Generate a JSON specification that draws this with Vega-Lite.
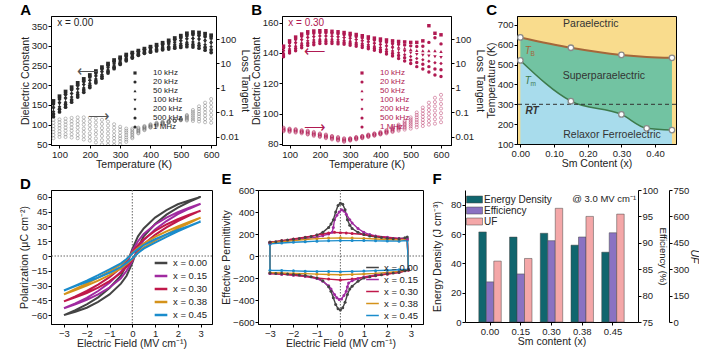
{
"$schema": "https://vega.github.io/schema/vega-lite/v6.json",
"padding": {"left": 19, "top": 2, "right": 0, "bottom": 0},
"config": {
  "font": "Liberation Sans",
  "view": {"stroke": "#000", "strokeWidth": 1},
  "axis": {"grid": false, "domainColor": "#000", "tickColor": "#000", "labelColor": "#222", "titleColor": "#222", "labelFontSize": 9.5, "titleFontSize": 10.5, "titleFontWeight": "normal", "tickSize": 3, "labelPadding": 1, "titlePadding": 1, "labelOverlap": false},
  "title": {"fontSize": 15, "fontWeight": "bold", "anchor": "start", "frame": "bounds", "offset": 0, "color": "#000"},
  "legend": {"labelColor": "#222", "titleColor": "#222"}
},
"datasets": {
"A": [
{"f":1,"T":80,"d":160,"l":0.0089},{"f":2,"T":80,"d":153,"l":0.012},{"f":3,"T":80,"d":147,"l":0.016},{"f":4,"T":80,"d":140,"l":0.021},{"f":5,"T":80,"d":133,"l":0.028},{"f":6,"T":80,"d":127,"l":0.038},{"f":7,"T":80,"d":120,"l":0.05},
{"f":1,"T":100,"d":172,"l":0.01},{"f":2,"T":100,"d":165,"l":0.013},{"f":3,"T":100,"d":159,"l":0.017},{"f":4,"T":100,"d":152,"l":0.023},{"f":5,"T":100,"d":145,"l":0.03},{"f":6,"T":100,"d":139,"l":0.04},{"f":7,"T":100,"d":132,"l":0.052},
{"f":1,"T":120,"d":184,"l":0.01},{"f":2,"T":120,"d":177,"l":0.013},{"f":3,"T":120,"d":171,"l":0.018},{"f":4,"T":120,"d":164,"l":0.024},{"f":5,"T":120,"d":157,"l":0.032},{"f":6,"T":120,"d":151,"l":0.042},{"f":7,"T":120,"d":144,"l":0.056},
{"f":1,"T":140,"d":195,"l":0.0095},{"f":2,"T":140,"d":189,"l":0.013},{"f":3,"T":140,"d":182,"l":0.018},{"f":4,"T":140,"d":176,"l":0.024},{"f":5,"T":140,"d":170,"l":0.033},{"f":6,"T":140,"d":163,"l":0.044},{"f":7,"T":140,"d":157,"l":0.06},
{"f":1,"T":160,"d":206,"l":0.0089},{"f":2,"T":160,"d":200,"l":0.012},{"f":3,"T":160,"d":194,"l":0.017},{"f":4,"T":160,"d":188,"l":0.024},{"f":5,"T":160,"d":182,"l":0.033},{"f":6,"T":160,"d":176,"l":0.045},{"f":7,"T":160,"d":170,"l":0.063},
{"f":1,"T":180,"d":216,"l":0.0079},{"f":2,"T":180,"d":210,"l":0.011},{"f":3,"T":180,"d":205,"l":0.016},{"f":4,"T":180,"d":199,"l":0.022},{"f":5,"T":180,"d":193,"l":0.032},{"f":6,"T":180,"d":188,"l":0.045},{"f":7,"T":180,"d":182,"l":0.063},
{"f":1,"T":200,"d":226,"l":0.0071},{"f":2,"T":200,"d":221,"l":0.01},{"f":3,"T":200,"d":215,"l":0.014},{"f":4,"T":200,"d":210,"l":0.021},{"f":5,"T":200,"d":205,"l":0.03},{"f":6,"T":200,"d":199,"l":0.042},{"f":7,"T":200,"d":194,"l":0.06},
{"f":1,"T":220,"d":236,"l":0.006},{"f":2,"T":220,"d":231,"l":0.0087},{"f":3,"T":220,"d":226,"l":0.013},{"f":4,"T":220,"d":221,"l":0.018},{"f":5,"T":220,"d":216,"l":0.027},{"f":6,"T":220,"d":211,"l":0.039},{"f":7,"T":220,"d":206,"l":0.056},
{"f":1,"T":240,"d":246,"l":0.005},{"f":2,"T":240,"d":241,"l":0.0074},{"f":3,"T":240,"d":237,"l":0.011},{"f":4,"T":240,"d":232,"l":0.016},{"f":5,"T":240,"d":227,"l":0.023},{"f":6,"T":240,"d":223,"l":0.034},{"f":7,"T":240,"d":218,"l":0.05},
{"f":1,"T":260,"d":255,"l":0.0047},{"f":2,"T":260,"d":251,"l":0.0067},{"f":3,"T":260,"d":247,"l":0.0097},{"f":4,"T":260,"d":243,"l":0.014},{"f":5,"T":260,"d":239,"l":0.02},{"f":6,"T":260,"d":235,"l":0.029},{"f":7,"T":260,"d":231,"l":0.042},
{"f":1,"T":280,"d":264,"l":0.0047},{"f":2,"T":280,"d":260,"l":0.0065},{"f":3,"T":280,"d":257,"l":0.009},{"f":4,"T":280,"d":253,"l":0.012},{"f":5,"T":280,"d":249,"l":0.017},{"f":6,"T":280,"d":246,"l":0.024},{"f":7,"T":280,"d":242,"l":0.033},
{"f":1,"T":300,"d":271,"l":0.005},{"f":2,"T":300,"d":268,"l":0.0066},{"f":3,"T":300,"d":265,"l":0.0087},{"f":4,"T":300,"d":262,"l":0.011},{"f":5,"T":300,"d":259,"l":0.015},{"f":6,"T":300,"d":256,"l":0.02},{"f":7,"T":300,"d":253,"l":0.026},
{"f":1,"T":320,"d":278,"l":0.0063},{"f":2,"T":320,"d":275,"l":0.0078},{"f":3,"T":320,"d":273,"l":0.0096},{"f":4,"T":320,"d":270,"l":0.012},{"f":5,"T":320,"d":267,"l":0.015},{"f":6,"T":320,"d":265,"l":0.018},{"f":7,"T":320,"d":262,"l":0.022},
{"f":1,"T":340,"d":283,"l":0.0089},{"f":2,"T":340,"d":281,"l":0.01},{"f":3,"T":340,"d":278,"l":0.012},{"f":4,"T":340,"d":276,"l":0.014},{"f":5,"T":340,"d":274,"l":0.016},{"f":6,"T":340,"d":271,"l":0.019},{"f":7,"T":340,"d":269,"l":0.022},
{"f":1,"T":360,"d":288,"l":0.014},{"f":2,"T":360,"d":286,"l":0.015},{"f":3,"T":360,"d":284,"l":0.017},{"f":4,"T":360,"d":282,"l":0.018},{"f":5,"T":360,"d":280,"l":0.02},{"f":6,"T":360,"d":278,"l":0.022},{"f":7,"T":360,"d":276,"l":0.024},
{"f":1,"T":380,"d":293,"l":0.019},{"f":2,"T":380,"d":291,"l":0.02},{"f":3,"T":380,"d":289,"l":0.022},{"f":4,"T":380,"d":287,"l":0.023},{"f":5,"T":380,"d":285,"l":0.025},{"f":6,"T":380,"d":283,"l":0.026},{"f":7,"T":380,"d":281,"l":0.028},
{"f":1,"T":400,"d":298,"l":0.024},{"f":2,"T":400,"d":296,"l":0.025},{"f":3,"T":400,"d":293,"l":0.026},{"f":4,"T":400,"d":291,"l":0.028},{"f":5,"T":400,"d":289,"l":0.029},{"f":6,"T":400,"d":286,"l":0.031},{"f":7,"T":400,"d":284,"l":0.033},
{"f":1,"T":420,"d":303,"l":0.028},{"f":2,"T":420,"d":300,"l":0.03},{"f":3,"T":420,"d":298,"l":0.031},{"f":4,"T":420,"d":295,"l":0.033},{"f":5,"T":420,"d":292,"l":0.034},{"f":6,"T":420,"d":290,"l":0.036},{"f":7,"T":420,"d":287,"l":0.038},
{"f":1,"T":440,"d":308,"l":0.033},{"f":2,"T":440,"d":305,"l":0.034},{"f":3,"T":440,"d":302,"l":0.036},{"f":4,"T":440,"d":299,"l":0.037},{"f":5,"T":440,"d":296,"l":0.038},{"f":6,"T":440,"d":293,"l":0.04},{"f":7,"T":440,"d":290,"l":0.042},
{"f":1,"T":460,"d":314,"l":0.038},{"f":2,"T":460,"d":310,"l":0.039},{"f":3,"T":460,"d":307,"l":0.04},{"f":4,"T":460,"d":303,"l":0.041},{"f":5,"T":460,"d":299,"l":0.042},{"f":6,"T":460,"d":296,"l":0.044},{"f":7,"T":460,"d":292,"l":0.045},
{"f":1,"T":480,"d":320,"l":0.045},{"f":2,"T":480,"d":316,"l":0.045},{"f":3,"T":480,"d":311,"l":0.046},{"f":4,"T":480,"d":307,"l":0.046},{"f":5,"T":480,"d":303,"l":0.046},{"f":6,"T":480,"d":298,"l":0.047},{"f":7,"T":480,"d":294,"l":0.047},
{"f":1,"T":500,"d":326,"l":0.056},{"f":2,"T":500,"d":321,"l":0.055},{"f":3,"T":500,"d":316,"l":0.053},{"f":4,"T":500,"d":311,"l":0.052},{"f":5,"T":500,"d":306,"l":0.051},{"f":6,"T":500,"d":301,"l":0.049},{"f":7,"T":500,"d":296,"l":0.048},
{"f":1,"T":520,"d":332,"l":0.079},{"f":2,"T":520,"d":326,"l":0.073},{"f":3,"T":520,"d":321,"l":0.067},{"f":4,"T":520,"d":315,"l":0.061},{"f":5,"T":520,"d":309,"l":0.056},{"f":6,"T":520,"d":304,"l":0.051},{"f":7,"T":520,"d":298,"l":0.047},
{"f":1,"T":540,"d":335,"l":0.126},{"f":2,"T":540,"d":329,"l":0.106},{"f":3,"T":540,"d":322,"l":0.089},{"f":4,"T":540,"d":316,"l":0.075},{"f":5,"T":540,"d":310,"l":0.063},{"f":6,"T":540,"d":303,"l":0.053},{"f":7,"T":540,"d":297,"l":0.045},
{"f":1,"T":560,"d":334,"l":0.178},{"f":2,"T":560,"d":327,"l":0.14},{"f":3,"T":560,"d":321,"l":0.11},{"f":4,"T":560,"d":314,"l":0.087},{"f":5,"T":560,"d":307,"l":0.069},{"f":6,"T":560,"d":301,"l":0.054},{"f":7,"T":560,"d":294,"l":0.043},
{"f":1,"T":580,"d":331,"l":0.251},{"f":2,"T":580,"d":324,"l":0.185},{"f":3,"T":580,"d":317,"l":0.136},{"f":4,"T":580,"d":310,"l":0.1},{"f":5,"T":580,"d":303,"l":0.074},{"f":6,"T":580,"d":296,"l":0.054},{"f":7,"T":580,"d":289,"l":0.04},
{"f":1,"T":600,"d":327,"l":0.355},{"f":2,"T":600,"d":320,"l":0.244},{"f":3,"T":600,"d":312,"l":0.169},{"f":4,"T":600,"d":305,"l":0.116},{"f":5,"T":600,"d":298,"l":0.08},{"f":6,"T":600,"d":290,"l":0.055},{"f":7,"T":600,"d":283,"l":0.038}
],
"B": [
{"f":1,"T":80,"d":144.5,"l":0.024},{"f":2,"T":80,"d":143.3,"l":0.023},{"f":3,"T":80,"d":142.2,"l":0.021},{"f":4,"T":80,"d":141,"l":0.02},{"f":5,"T":80,"d":139.8,"l":0.019},{"f":6,"T":80,"d":138.7,"l":0.018},{"f":7,"T":80,"d":137.5,"l":0.017},
{"f":1,"T":100,"d":148,"l":0.022},{"f":2,"T":100,"d":146.7,"l":0.021},{"f":3,"T":100,"d":145.3,"l":0.02},{"f":4,"T":100,"d":144,"l":0.019},{"f":5,"T":100,"d":142.7,"l":0.018},{"f":6,"T":100,"d":141.3,"l":0.017},{"f":7,"T":100,"d":140,"l":0.016},
{"f":1,"T":120,"d":150.5,"l":0.021},{"f":2,"T":120,"d":149,"l":0.02},{"f":3,"T":120,"d":147.5,"l":0.019},{"f":4,"T":120,"d":146,"l":0.018},{"f":5,"T":120,"d":144.5,"l":0.017},{"f":6,"T":120,"d":143,"l":0.016},{"f":7,"T":120,"d":141.5,"l":0.015},
{"f":1,"T":140,"d":152.5,"l":0.019},{"f":2,"T":140,"d":151,"l":0.018},{"f":3,"T":140,"d":149.5,"l":0.017},{"f":4,"T":140,"d":148,"l":0.016},{"f":5,"T":140,"d":146.5,"l":0.016},{"f":6,"T":140,"d":145,"l":0.015},{"f":7,"T":140,"d":143.5,"l":0.014},
{"f":1,"T":160,"d":154,"l":0.018},{"f":2,"T":160,"d":152.5,"l":0.017},{"f":3,"T":160,"d":151,"l":0.016},{"f":4,"T":160,"d":149.5,"l":0.015},{"f":5,"T":160,"d":148,"l":0.014},{"f":6,"T":160,"d":146.5,"l":0.013},{"f":7,"T":160,"d":145,"l":0.0126},
{"f":1,"T":180,"d":154.5,"l":0.016},{"f":2,"T":180,"d":153,"l":0.015},{"f":3,"T":180,"d":151.5,"l":0.014},{"f":4,"T":180,"d":150,"l":0.013},{"f":5,"T":180,"d":148.5,"l":0.0126},{"f":6,"T":180,"d":147,"l":0.012},{"f":7,"T":180,"d":145.5,"l":0.011},
{"f":1,"T":200,"d":154.7,"l":0.014},{"f":2,"T":200,"d":153.3,"l":0.013},{"f":3,"T":200,"d":151.9,"l":0.0126},{"f":4,"T":200,"d":150.5,"l":0.012},{"f":5,"T":200,"d":149.1,"l":0.011},{"f":6,"T":200,"d":147.7,"l":0.0106},{"f":7,"T":200,"d":146.3,"l":0.01},
{"f":1,"T":220,"d":154.7,"l":0.0126},{"f":2,"T":220,"d":153.3,"l":0.012},{"f":3,"T":220,"d":151.9,"l":0.011},{"f":4,"T":220,"d":150.5,"l":0.0106},{"f":5,"T":220,"d":149.1,"l":0.01},{"f":6,"T":220,"d":147.7,"l":0.0094},{"f":7,"T":220,"d":146.3,"l":0.0089},
{"f":1,"T":240,"d":154.3,"l":0.011},{"f":2,"T":240,"d":153,"l":0.0106},{"f":3,"T":240,"d":151.6,"l":0.01},{"f":4,"T":240,"d":150.3,"l":0.0094},{"f":5,"T":240,"d":149,"l":0.0089},{"f":6,"T":240,"d":147.6,"l":0.0084},{"f":7,"T":240,"d":146.3,"l":0.0079},
{"f":1,"T":260,"d":154,"l":0.01},{"f":2,"T":260,"d":152.7,"l":0.0094},{"f":3,"T":260,"d":151.3,"l":0.0089},{"f":4,"T":260,"d":150,"l":0.0084},{"f":5,"T":260,"d":148.7,"l":0.0079},{"f":6,"T":260,"d":147.3,"l":0.0075},{"f":7,"T":260,"d":146,"l":0.0071},
{"f":1,"T":280,"d":153.5,"l":0.0089},{"f":2,"T":280,"d":152.2,"l":0.0084},{"f":3,"T":280,"d":150.9,"l":0.0079},{"f":4,"T":280,"d":149.6,"l":0.0075},{"f":5,"T":280,"d":148.3,"l":0.0071},{"f":6,"T":280,"d":147,"l":0.0067},{"f":7,"T":280,"d":145.7,"l":0.0063},
{"f":1,"T":300,"d":152.9,"l":0.0089},{"f":2,"T":300,"d":151.6,"l":0.0086},{"f":3,"T":300,"d":150.3,"l":0.0083},{"f":4,"T":300,"d":149,"l":0.0079},{"f":5,"T":300,"d":147.7,"l":0.0077},{"f":6,"T":300,"d":146.4,"l":0.0074},{"f":7,"T":300,"d":145.1,"l":0.0071},
{"f":1,"T":320,"d":152.2,"l":0.01},{"f":2,"T":320,"d":150.9,"l":0.0096},{"f":3,"T":320,"d":149.6,"l":0.0093},{"f":4,"T":320,"d":148.3,"l":0.0089},{"f":5,"T":320,"d":147,"l":0.0086},{"f":6,"T":320,"d":145.7,"l":0.0082},{"f":7,"T":320,"d":144.4,"l":0.0079},
{"f":1,"T":340,"d":151.4,"l":0.011},{"f":2,"T":340,"d":150.1,"l":0.0108},{"f":3,"T":340,"d":148.8,"l":0.0104},{"f":4,"T":340,"d":147.5,"l":0.01},{"f":5,"T":340,"d":146.2,"l":0.0096},{"f":6,"T":340,"d":144.9,"l":0.0092},{"f":7,"T":340,"d":143.6,"l":0.0089},
{"f":1,"T":360,"d":150.6,"l":0.0126},{"f":2,"T":360,"d":149.3,"l":0.012},{"f":3,"T":360,"d":148,"l":0.0117},{"f":4,"T":360,"d":146.7,"l":0.0112},{"f":5,"T":360,"d":145.4,"l":0.0108},{"f":6,"T":360,"d":144.1,"l":0.0104},{"f":7,"T":360,"d":142.8,"l":0.01},
{"f":1,"T":380,"d":149.8,"l":0.014},{"f":2,"T":380,"d":148.5,"l":0.0136},{"f":3,"T":380,"d":147.1,"l":0.013},{"f":4,"T":380,"d":145.8,"l":0.0126},{"f":5,"T":380,"d":144.5,"l":0.012},{"f":6,"T":380,"d":143.1,"l":0.0116},{"f":7,"T":380,"d":141.8,"l":0.0112},
{"f":1,"T":400,"d":149.2,"l":0.016},{"f":2,"T":400,"d":147.8,"l":0.015},{"f":3,"T":400,"d":146.4,"l":0.0146},{"f":4,"T":400,"d":145,"l":0.014},{"f":5,"T":400,"d":143.6,"l":0.0135},{"f":6,"T":400,"d":142.2,"l":0.013},{"f":7,"T":400,"d":140.8,"l":0.0126},
{"f":1,"T":420,"d":148.6,"l":0.019},{"f":2,"T":420,"d":147.1,"l":0.018},{"f":3,"T":420,"d":145.5,"l":0.017},{"f":4,"T":420,"d":144,"l":0.016},{"f":5,"T":420,"d":142.5,"l":0.0155},{"f":6,"T":420,"d":140.9,"l":0.015},{"f":7,"T":420,"d":139.4,"l":0.014},
{"f":1,"T":440,"d":148,"l":0.024},{"f":2,"T":440,"d":146.3,"l":0.022},{"f":3,"T":440,"d":144.7,"l":0.021},{"f":4,"T":440,"d":143,"l":0.0195},{"f":5,"T":440,"d":141.3,"l":0.018},{"f":6,"T":440,"d":139.7,"l":0.017},{"f":7,"T":440,"d":138,"l":0.016},
{"f":1,"T":460,"d":147.6,"l":0.032},{"f":2,"T":460,"d":145.7,"l":0.029},{"f":3,"T":460,"d":143.9,"l":0.026},{"f":4,"T":460,"d":142,"l":0.024},{"f":5,"T":460,"d":140.1,"l":0.022},{"f":6,"T":460,"d":138.3,"l":0.02},{"f":7,"T":460,"d":136.4,"l":0.018},
{"f":1,"T":480,"d":147.3,"l":0.045},{"f":2,"T":480,"d":145.2,"l":0.039},{"f":3,"T":480,"d":143.1,"l":0.034},{"f":4,"T":480,"d":141,"l":0.03},{"f":5,"T":480,"d":138.9,"l":0.026},{"f":6,"T":480,"d":136.8,"l":0.023},{"f":7,"T":480,"d":134.7,"l":0.02},
{"f":1,"T":500,"d":147,"l":0.063},{"f":2,"T":500,"d":144.7,"l":0.053},{"f":3,"T":500,"d":142.3,"l":0.045},{"f":4,"T":500,"d":140,"l":0.038},{"f":5,"T":500,"d":137.7,"l":0.032},{"f":6,"T":500,"d":135.3,"l":0.027},{"f":7,"T":500,"d":133,"l":0.022},
{"f":1,"T":520,"d":147,"l":0.1},{"f":2,"T":520,"d":144.3,"l":0.079},{"f":3,"T":520,"d":141.7,"l":0.063},{"f":4,"T":520,"d":139,"l":0.05},{"f":5,"T":520,"d":136.3,"l":0.04},{"f":6,"T":520,"d":133.7,"l":0.032},{"f":7,"T":520,"d":131,"l":0.025},
{"f":1,"T":540,"d":148,"l":0.158},{"f":2,"T":540,"d":144.5,"l":0.119},{"f":3,"T":540,"d":141.5,"l":0.089},{"f":4,"T":540,"d":138.5,"l":0.067},{"f":5,"T":540,"d":135.5,"l":0.05},{"f":6,"T":540,"d":132.5,"l":0.038},{"f":7,"T":540,"d":129.5,"l":0.028},
{"f":1,"T":560,"d":158,"l":0.251},{"f":2,"T":560,"d":147,"l":0.178},{"f":3,"T":560,"d":141.5,"l":0.126},{"f":4,"T":560,"d":138,"l":0.089},{"f":5,"T":560,"d":134.5,"l":0.063},{"f":6,"T":560,"d":131,"l":0.045},{"f":7,"T":560,"d":127.5,"l":0.032},
{"f":1,"T":580,"d":153,"l":0.398},{"f":2,"T":580,"d":150,"l":0.266},{"f":3,"T":580,"d":141.5,"l":0.178},{"f":4,"T":580,"d":137.5,"l":0.119},{"f":5,"T":580,"d":133.5,"l":0.079},{"f":6,"T":580,"d":129.5,"l":0.053},{"f":7,"T":580,"d":125.5,"l":0.035},
{"f":1,"T":600,"d":152,"l":0.525},{"f":2,"T":600,"d":146,"l":0.341},{"f":3,"T":600,"d":141,"l":0.222},{"f":4,"T":600,"d":137,"l":0.145},{"f":5,"T":600,"d":133,"l":0.094},{"f":6,"T":600,"d":129,"l":0.061},{"f":7,"T":600,"d":124.5,"l":0.04}
],
"C": [
{"x":0,"tm":521,"tb":637,"mb":1},{"x":0.15,"tm":316,"tb":585,"mb":1},{"x":0.3,"tm":249,"tb":549,"mb":1},{"x":0.375,"tm":179,"tb":539,"mb":0},{"x":0.45,"tm":170,"tb":534,"mb":1}
],
"D": [
{"c":"0.00","o":1,"E":3,"P":60},{"c":"0.00","o":2,"E":2.5,"P":56.5},{"c":"0.00","o":3,"E":2,"P":52.5},{"c":"0.00","o":4,"E":1.5,"P":46.5},{"c":"0.00","o":5,"E":1,"P":39},{"c":"0.00","o":6,"E":0.5,"P":28},{"c":"0.00","o":7,"E":0.25,"P":20},{"c":"0.00","o":8,"E":0,"P":7},{"c":"0.00","o":9,"E":-0.25,"P":-9},{"c":"0.00","o":10,"E":-0.5,"P":-20},{"c":"0.00","o":11,"E":-1,"P":-32.5},{"c":"0.00","o":12,"E":-1.5,"P":-42},{"c":"0.00","o":13,"E":-2,"P":-49},{"c":"0.00","o":14,"E":-2.5,"P":-55},{"c":"0.00","o":15,"E":-3,"P":-60},
{"c":"0.00","o":16,"E":-2.5,"P":-56.5},{"c":"0.00","o":17,"E":-2,"P":-52.5},{"c":"0.00","o":18,"E":-1.5,"P":-46.5},{"c":"0.00","o":19,"E":-1,"P":-39},{"c":"0.00","o":20,"E":-0.5,"P":-28},{"c":"0.00","o":21,"E":-0.25,"P":-20},{"c":"0.00","o":22,"E":0,"P":-7},{"c":"0.00","o":23,"E":0.25,"P":9},{"c":"0.00","o":24,"E":0.5,"P":20},{"c":"0.00","o":25,"E":1,"P":32.5},{"c":"0.00","o":26,"E":1.5,"P":42},{"c":"0.00","o":27,"E":2,"P":49},{"c":"0.00","o":28,"E":2.5,"P":55},{"c":"0.00","o":29,"E":3,"P":60},
{"c":"0.15","o":1,"E":3,"P":53},{"c":"0.15","o":2,"E":2.5,"P":49},{"c":"0.15","o":3,"E":2,"P":44.5},{"c":"0.15","o":4,"E":1.5,"P":39},{"c":"0.15","o":5,"E":1,"P":32},{"c":"0.15","o":6,"E":0.5,"P":22.5},{"c":"0.15","o":7,"E":0.25,"P":15},{"c":"0.15","o":8,"E":0,"P":5},{"c":"0.15","o":9,"E":-0.25,"P":-7},{"c":"0.15","o":10,"E":-0.5,"P":-16},{"c":"0.15","o":11,"E":-1,"P":-27},{"c":"0.15","o":12,"E":-1.5,"P":-35.5},{"c":"0.15","o":13,"E":-2,"P":-42.5},{"c":"0.15","o":14,"E":-2.5,"P":-48},{"c":"0.15","o":15,"E":-3,"P":-53},
{"c":"0.15","o":16,"E":-2.5,"P":-49},{"c":"0.15","o":17,"E":-2,"P":-44.5},{"c":"0.15","o":18,"E":-1.5,"P":-39},{"c":"0.15","o":19,"E":-1,"P":-32},{"c":"0.15","o":20,"E":-0.5,"P":-22.5},{"c":"0.15","o":21,"E":-0.25,"P":-15},{"c":"0.15","o":22,"E":0,"P":-5},{"c":"0.15","o":23,"E":0.25,"P":7},{"c":"0.15","o":24,"E":0.5,"P":16},{"c":"0.15","o":25,"E":1,"P":27},{"c":"0.15","o":26,"E":1.5,"P":35.5},{"c":"0.15","o":27,"E":2,"P":42.5},{"c":"0.15","o":28,"E":2.5,"P":48},{"c":"0.15","o":29,"E":3,"P":53},
{"c":"0.30","o":1,"E":3,"P":46},{"c":"0.30","o":2,"E":2.5,"P":42},{"c":"0.30","o":3,"E":2,"P":37.5},{"c":"0.30","o":4,"E":1.5,"P":32},{"c":"0.30","o":5,"E":1,"P":25.5},{"c":"0.30","o":6,"E":0.5,"P":17},{"c":"0.30","o":7,"E":0.25,"P":11},{"c":"0.30","o":8,"E":0,"P":4},{"c":"0.30","o":9,"E":-0.25,"P":-5},{"c":"0.30","o":10,"E":-0.5,"P":-12},{"c":"0.30","o":11,"E":-1,"P":-21.5},{"c":"0.30","o":12,"E":-1.5,"P":-29},{"c":"0.30","o":13,"E":-2,"P":-35.5},{"c":"0.30","o":14,"E":-2.5,"P":-41},{"c":"0.30","o":15,"E":-3,"P":-46},
{"c":"0.30","o":16,"E":-2.5,"P":-42},{"c":"0.30","o":17,"E":-2,"P":-37.5},{"c":"0.30","o":18,"E":-1.5,"P":-32},{"c":"0.30","o":19,"E":-1,"P":-25.5},{"c":"0.30","o":20,"E":-0.5,"P":-17},{"c":"0.30","o":21,"E":-0.25,"P":-11},{"c":"0.30","o":22,"E":0,"P":-4},{"c":"0.30","o":23,"E":0.25,"P":5},{"c":"0.30","o":24,"E":0.5,"P":12},{"c":"0.30","o":25,"E":1,"P":21.5},{"c":"0.30","o":26,"E":1.5,"P":29},{"c":"0.30","o":27,"E":2,"P":35.5},{"c":"0.30","o":28,"E":2.5,"P":41},{"c":"0.30","o":29,"E":3,"P":46},
{"c":"0.38","o":1,"E":3,"P":39},{"c":"0.38","o":2,"E":2.5,"P":34.5},{"c":"0.38","o":3,"E":2,"P":30},{"c":"0.38","o":4,"E":1.5,"P":25},{"c":"0.38","o":5,"E":1,"P":19.5},{"c":"0.38","o":6,"E":0.5,"P":12.5},{"c":"0.38","o":7,"E":0.25,"P":8},{"c":"0.38","o":8,"E":0,"P":3},{"c":"0.38","o":9,"E":-0.25,"P":-3.5},{"c":"0.38","o":10,"E":-0.5,"P":-8.5},{"c":"0.38","o":11,"E":-1,"P":-15.5},{"c":"0.38","o":12,"E":-1.5,"P":-22},{"c":"0.38","o":13,"E":-2,"P":-28},{"c":"0.38","o":14,"E":-2.5,"P":-33.5},{"c":"0.38","o":15,"E":-3,"P":-39},
{"c":"0.38","o":16,"E":-2.5,"P":-34.5},{"c":"0.38","o":17,"E":-2,"P":-30},{"c":"0.38","o":18,"E":-1.5,"P":-25},{"c":"0.38","o":19,"E":-1,"P":-19.5},{"c":"0.38","o":20,"E":-0.5,"P":-12.5},{"c":"0.38","o":21,"E":-0.25,"P":-8},{"c":"0.38","o":22,"E":0,"P":-3},{"c":"0.38","o":23,"E":0.25,"P":3.5},{"c":"0.38","o":24,"E":0.5,"P":8.5},{"c":"0.38","o":25,"E":1,"P":15.5},{"c":"0.38","o":26,"E":1.5,"P":22},{"c":"0.38","o":27,"E":2,"P":28},{"c":"0.38","o":28,"E":2.5,"P":33.5},{"c":"0.38","o":29,"E":3,"P":39},
{"c":"0.45","o":1,"E":3,"P":35},{"c":"0.45","o":2,"E":2.5,"P":30.5},{"c":"0.45","o":3,"E":2,"P":26.5},{"c":"0.45","o":4,"E":1.5,"P":22},{"c":"0.45","o":5,"E":1,"P":17},{"c":"0.45","o":6,"E":0.5,"P":11},{"c":"0.45","o":7,"E":0.25,"P":7},{"c":"0.45","o":8,"E":0,"P":2.5},{"c":"0.45","o":9,"E":-0.25,"P":-3},{"c":"0.45","o":10,"E":-0.5,"P":-7.5},{"c":"0.45","o":11,"E":-1,"P":-13.5},{"c":"0.45","o":12,"E":-1.5,"P":-19.5},{"c":"0.45","o":13,"E":-2,"P":-25},{"c":"0.45","o":14,"E":-2.5,"P":-30},{"c":"0.45","o":15,"E":-3,"P":-35},
{"c":"0.45","o":16,"E":-2.5,"P":-30.5},{"c":"0.45","o":17,"E":-2,"P":-26.5},{"c":"0.45","o":18,"E":-1.5,"P":-22},{"c":"0.45","o":19,"E":-1,"P":-17},{"c":"0.45","o":20,"E":-0.5,"P":-11},{"c":"0.45","o":21,"E":-0.25,"P":-7},{"c":"0.45","o":22,"E":0,"P":-2.5},{"c":"0.45","o":23,"E":0.25,"P":3},{"c":"0.45","o":24,"E":0.5,"P":7.5},{"c":"0.45","o":25,"E":1,"P":13.5},{"c":"0.45","o":26,"E":1.5,"P":19.5},{"c":"0.45","o":27,"E":2,"P":25},{"c":"0.45","o":28,"E":2.5,"P":30},{"c":"0.45","o":29,"E":3,"P":35}
],
"E": [
{"c":"0.00","o":1,"E":-3,"e":125},{"c":"0.00","o":2,"E":-2.75,"e":130},{"c":"0.00","o":3,"E":-2.5,"e":138},{"c":"0.00","o":4,"E":-2.25,"e":145},{"c":"0.00","o":5,"E":-2,"e":152},{"c":"0.00","o":6,"E":-1.75,"e":160},{"c":"0.00","o":7,"E":-1.5,"e":168},{"c":"0.00","o":8,"E":-1.25,"e":178},{"c":"0.00","o":9,"E":-1,"e":190},{"c":"0.00","o":10,"E":-0.75,"e":215},{"c":"0.00","o":11,"E":-0.5,"e":260},{"c":"0.00","o":12,"E":-0.4,"e":290},{"c":"0.00","o":13,"E":-0.3,"e":330},{"c":"0.00","o":14,"E":-0.2,"e":400},{"c":"0.00","o":15,"E":-0.1,"e":460},{"c":"0.00","o":16,"E":0,"e":480},{"c":"0.00","o":17,"E":0.1,"e":470},{"c":"0.00","o":18,"E":0.2,"e":420},{"c":"0.00","o":19,"E":0.3,"e":330},{"c":"0.00","o":20,"E":0.4,"e":280},{"c":"0.00","o":21,"E":0.5,"e":250},{"c":"0.00","o":22,"E":0.75,"e":215},{"c":"0.00","o":23,"E":1,"e":195},{"c":"0.00","o":24,"E":1.25,"e":182},{"c":"0.00","o":25,"E":1.5,"e":175},{"c":"0.00","o":26,"E":1.75,"e":168},{"c":"0.00","o":27,"E":2,"e":162},{"c":"0.00","o":28,"E":2.25,"e":158},{"c":"0.00","o":29,"E":2.5,"e":158},{"c":"0.00","o":30,"E":2.75,"e":165},{"c":"0.00","o":31,"E":2.85,"e":172},
{"c":"0.00","o":32,"E":2.9,"e":-125},{"c":"0.00","o":33,"E":2.75,"e":-135},{"c":"0.00","o":34,"E":2.5,"e":-148},{"c":"0.00","o":35,"E":2.25,"e":-155},{"c":"0.00","o":36,"E":2,"e":-162},{"c":"0.00","o":37,"E":1.75,"e":-170},{"c":"0.00","o":38,"E":1.5,"e":-178},{"c":"0.00","o":39,"E":1.25,"e":-188},{"c":"0.00","o":40,"E":1,"e":-200},{"c":"0.00","o":41,"E":0.75,"e":-230},{"c":"0.00","o":42,"E":0.5,"e":-275},{"c":"0.00","o":43,"E":0.4,"e":-300},{"c":"0.00","o":44,"E":0.3,"e":-350},{"c":"0.00","o":45,"E":0.2,"e":-420},{"c":"0.00","o":46,"E":0.1,"e":-470},{"c":"0.00","o":47,"E":0,"e":-490},{"c":"0.00","o":48,"E":-0.1,"e":-480},{"c":"0.00","o":49,"E":-0.2,"e":-440},{"c":"0.00","o":50,"E":-0.3,"e":-380},{"c":"0.00","o":51,"E":-0.4,"e":-320},{"c":"0.00","o":52,"E":-0.5,"e":-280},{"c":"0.00","o":53,"E":-0.75,"e":-225},{"c":"0.00","o":54,"E":-1,"e":-200},{"c":"0.00","o":55,"E":-1.25,"e":-188},{"c":"0.00","o":56,"E":-1.5,"e":-178},{"c":"0.00","o":57,"E":-1.75,"e":-172},{"c":"0.00","o":58,"E":-2,"e":-168},{"c":"0.00","o":59,"E":-2.25,"e":-163},{"c":"0.00","o":60,"E":-2.5,"e":-160},{"c":"0.00","o":61,"E":-2.75,"e":-158},{"c":"0.00","o":62,"E":-3,"e":-155},{"c":"0.00","o":63,"E":-3,"e":125},
{"c":"0.15","o":1,"E":-3,"e":120},{"c":"0.15","o":2,"E":-2.5,"e":133},{"c":"0.15","o":3,"E":-2,"e":145},{"c":"0.15","o":4,"E":-1.5,"e":158},{"c":"0.15","o":5,"E":-1,"e":172},{"c":"0.15","o":6,"E":-0.75,"e":185},{"c":"0.15","o":7,"E":-0.5,"e":200},{"c":"0.15","o":8,"E":-0.35,"e":215},{"c":"0.15","o":9,"E":-0.3,"e":260},{"c":"0.15","o":10,"E":-0.25,"e":330},{"c":"0.15","o":11,"E":-0.15,"e":370},{"c":"0.15","o":12,"E":-0.05,"e":400},{"c":"0.15","o":13,"E":0.05,"e":420},{"c":"0.15","o":14,"E":0.15,"e":410},{"c":"0.15","o":15,"E":0.25,"e":380},{"c":"0.15","o":16,"E":0.4,"e":330},{"c":"0.15","o":17,"E":0.5,"e":300},{"c":"0.15","o":18,"E":0.75,"e":250},{"c":"0.15","o":19,"E":1,"e":215},{"c":"0.15","o":20,"E":1.25,"e":195},{"c":"0.15","o":21,"E":1.5,"e":183},{"c":"0.15","o":22,"E":2,"e":170},{"c":"0.15","o":23,"E":2.5,"e":160},{"c":"0.15","o":24,"E":2.85,"e":160},
{"c":"0.15","o":25,"E":2.9,"e":-125},{"c":"0.15","o":26,"E":2.5,"e":-145},{"c":"0.15","o":27,"E":2,"e":-160},{"c":"0.15","o":28,"E":1.5,"e":-172},{"c":"0.15","o":29,"E":1,"e":-190},{"c":"0.15","o":30,"E":0.75,"e":-205},{"c":"0.15","o":31,"E":0.5,"e":-225},{"c":"0.15","o":32,"E":0.35,"e":-245},{"c":"0.15","o":33,"E":0.3,"e":-280},{"c":"0.15","o":34,"E":0.25,"e":-320},{"c":"0.15","o":35,"E":0.15,"e":-360},{"c":"0.15","o":36,"E":0.05,"e":-390},{"c":"0.15","o":37,"E":-0.05,"e":-395},{"c":"0.15","o":38,"E":-0.15,"e":-380},{"c":"0.15","o":39,"E":-0.25,"e":-350},{"c":"0.15","o":40,"E":-0.4,"e":-300},{"c":"0.15","o":41,"E":-0.5,"e":-270},{"c":"0.15","o":42,"E":-0.75,"e":-230},{"c":"0.15","o":43,"E":-1,"e":-205},{"c":"0.15","o":44,"E":-1.5,"e":-185},{"c":"0.15","o":45,"E":-2,"e":-175},{"c":"0.15","o":46,"E":-2.5,"e":-165},{"c":"0.15","o":47,"E":-3,"e":-160},{"c":"0.15","o":48,"E":-3,"e":120},
{"c":"0.30","o":1,"E":-3,"e":125},{"c":"0.30","o":2,"E":-2.5,"e":140},{"c":"0.30","o":3,"E":-2,"e":155},{"c":"0.30","o":4,"E":-1.5,"e":170},{"c":"0.30","o":5,"E":-1,"e":190},{"c":"0.30","o":6,"E":-0.75,"e":200},{"c":"0.30","o":7,"E":-0.5,"e":210},{"c":"0.30","o":8,"E":-0.25,"e":215},{"c":"0.30","o":9,"E":0,"e":212},{"c":"0.30","o":10,"E":0.25,"e":210},{"c":"0.30","o":11,"E":0.5,"e":205},{"c":"0.30","o":12,"E":1,"e":195},{"c":"0.30","o":13,"E":1.5,"e":180},{"c":"0.30","o":14,"E":2,"e":168},{"c":"0.30","o":15,"E":2.5,"e":158},{"c":"0.30","o":16,"E":2.85,"e":155},
{"c":"0.30","o":17,"E":2.9,"e":-130},{"c":"0.30","o":18,"E":2.5,"e":-150},{"c":"0.30","o":19,"E":2,"e":-165},{"c":"0.30","o":20,"E":1.5,"e":-180},{"c":"0.30","o":21,"E":1,"e":-195},{"c":"0.30","o":22,"E":0.5,"e":-210},{"c":"0.30","o":23,"E":0,"e":-218},{"c":"0.30","o":24,"E":-0.5,"e":-210},{"c":"0.30","o":25,"E":-1,"e":-200},{"c":"0.30","o":26,"E":-1.5,"e":-185},{"c":"0.30","o":27,"E":-2,"e":-172},{"c":"0.30","o":28,"E":-2.5,"e":-165},{"c":"0.30","o":29,"E":-3,"e":-160},{"c":"0.30","o":30,"E":-3,"e":125},
{"c":"0.38","o":1,"E":-3,"e":120},{"c":"0.38","o":2,"E":-2.5,"e":130},{"c":"0.38","o":3,"E":-2,"e":140},{"c":"0.38","o":4,"E":-1.5,"e":150},{"c":"0.38","o":5,"E":-1,"e":158},{"c":"0.38","o":6,"E":-0.5,"e":163},{"c":"0.38","o":7,"E":0,"e":165},{"c":"0.38","o":8,"E":0.5,"e":163},{"c":"0.38","o":9,"E":1,"e":160},{"c":"0.38","o":10,"E":1.5,"e":155},{"c":"0.38","o":11,"E":2,"e":150},{"c":"0.38","o":12,"E":2.5,"e":145},{"c":"0.38","o":13,"E":2.85,"e":145},
{"c":"0.38","o":14,"E":2.9,"e":-125},{"c":"0.38","o":15,"E":2.5,"e":-140},{"c":"0.38","o":16,"E":2,"e":-150},{"c":"0.38","o":17,"E":1.5,"e":-158},{"c":"0.38","o":18,"E":1,"e":-163},{"c":"0.38","o":19,"E":0.5,"e":-167},{"c":"0.38","o":20,"E":0,"e":-170},{"c":"0.38","o":21,"E":-0.5,"e":-168},{"c":"0.38","o":22,"E":-1,"e":-165},{"c":"0.38","o":23,"E":-1.5,"e":-160},{"c":"0.38","o":24,"E":-2,"e":-158},{"c":"0.38","o":25,"E":-2.5,"e":-155},{"c":"0.38","o":26,"E":-3,"e":-150},{"c":"0.38","o":27,"E":-3,"e":120},
{"c":"0.45","o":1,"E":-3,"e":110},{"c":"0.45","o":2,"E":-2.5,"e":118},{"c":"0.45","o":3,"E":-2,"e":125},{"c":"0.45","o":4,"E":-1.5,"e":130},{"c":"0.45","o":5,"E":-1,"e":135},{"c":"0.45","o":6,"E":-0.5,"e":138},{"c":"0.45","o":7,"E":0,"e":140},{"c":"0.45","o":8,"E":0.5,"e":140},{"c":"0.45","o":9,"E":1,"e":140},{"c":"0.45","o":10,"E":1.5,"e":138},{"c":"0.45","o":11,"E":2,"e":136},{"c":"0.45","o":12,"E":2.5,"e":135},{"c":"0.45","o":13,"E":2.85,"e":140},
{"c":"0.45","o":14,"E":2.9,"e":-120},{"c":"0.45","o":15,"E":2.5,"e":-125},{"c":"0.45","o":16,"E":2,"e":-130},{"c":"0.45","o":17,"E":1.5,"e":-133},{"c":"0.45","o":18,"E":1,"e":-137},{"c":"0.45","o":19,"E":0.5,"e":-140},{"c":"0.45","o":20,"E":0,"e":-142},{"c":"0.45","o":21,"E":-0.5,"e":-140},{"c":"0.45","o":22,"E":-1,"e":-140},{"c":"0.45","o":23,"E":-1.5,"e":-138},{"c":"0.45","o":24,"E":-2,"e":-135},{"c":"0.45","o":25,"E":-2.5,"e":-132},{"c":"0.45","o":26,"E":-3,"e":-130},{"c":"0.45","o":27,"E":-3,"e":110}
],
"F": [
{"x":"0.00","m":"Energy Density","v":61.4},{"x":"0.15","m":"Energy Density","v":57.9},{"x":"0.30","m":"Energy Density","v":60.5},{"x":"0.38","m":"Energy Density","v":52.4},{"x":"0.45","m":"Energy Density","v":47.6},
{"x":"0.00","m":"Efficiency","v":82.6},{"x":"0.15","m":"Efficiency","v":84.1},{"x":"0.30","m":"Efficiency","v":90.4},{"x":"0.38","m":"Efficiency","v":91.1},{"x":"0.45","m":"Efficiency","v":91.9},
{"x":"0.00","m":"UF","v":346},{"x":"0.15","m":"UF","v":361},{"x":"0.30","m":"UF","v":646},{"x":"0.38","m":"UF","v":600},{"x":"0.45","m":"UF","v":613}
]
},
"resolve": {"scale": {"color": "independent", "shape": "independent"}, "legend": {"color": "independent", "shape": "independent"}},
"spacing": 0,
"vconcat": [
{
"hconcat": [
{
"title": {"text": "A", "dy": 6},
"width": 165, "height": 129,
"layer": [
  {"data": {"name": "A"}, "mark": {"type": "point", "filled": true, "size": 14, "color": "#2b2b2b", "opacity": 1, "clip": true},
   "encoding": {
    "x": {"field": "T", "type": "quantitative", "scale": {"domain": [72, 616], "nice": false, "zero": false}, "axis": {"title": "Temperature (K)", "values": [100, 200, 300, 400, 500, 600], "labelOverlap": false}},
    "y": {"field": "d", "type": "quantitative", "scale": {"domain": [48, 376], "nice": false, "zero": false}, "axis": {"title": "Dielectric Constant", "values": [50, 100, 150, 200, 250, 300, 350], "labelOverlap": false}},
    "shape": {"field": "f", "type": "nominal", "scale": {"domain": [1, 2, 3, 4, 5, 6, 7], "range": ["square", "circle", "triangle-up", "triangle-down", "diamond", "circle", "circle"]},
      "legend": {"title": null, "orient": "none", "legendX": 80, "legendY": 53, "labelExpr": "['10 kHz','20 kHz','50 kHz','100 kHz','200 kHz','500 kHz','1 MHz'][datum.value-1]", "labelFontSize": 8, "symbolSize": 10, "rowPadding": -3, "symbolFillColor": "#2b2b2b", "symbolStrokeColor": "#2b2b2b", "labelOffset": 14}}
   }},
  {"data": {"name": "A"}, "mark": {"type": "point", "filled": false, "size": 10, "strokeWidth": 0.6, "color": "#666", "shape": "circle", "clip": true},
   "encoding": {
    "x": {"field": "T", "type": "quantitative", "scale": {"domain": [72, 616], "nice": false, "zero": false}, "axis": null},
    "y": {"field": "l", "type": "quantitative", "scale": {"type": "log", "domain": [0.0047, 870], "nice": false}, "axis": {"orient": "right", "title": "Loss Tangent", "values": [0.01, 0.1, 1, 10, 100], "format": "~g", "labelOverlap": false}}
   }},
  {"data": {"values": [{}]}, "mark": {"type": "text", "text": "x = 0.00", "fontSize": 10, "color": "#222"}, "encoding": {"x": {"datum": 152, "scale": {"domain": [72, 616], "nice": false, "zero": false}, "axis": null}, "y": {"datum": 359, "scale": {"domain": [48, 376], "nice": false, "zero": false}, "axis": null}}},
  {"data": {"values": [{}]}, "mark": {"type": "text", "text": "⟵", "fontSize": 15, "color": "#555"}, "encoding": {"x": {"datum": 195, "scale": {"domain": [72, 616], "nice": false, "zero": false}, "axis": null}, "y": {"datum": 237, "scale": {"domain": [48, 376], "nice": false, "zero": false}, "axis": null}}},
  {"data": {"values": [{}]}, "mark": {"type": "text", "text": "⟶", "fontSize": 15, "color": "#555"}, "encoding": {"x": {"datum": 229, "scale": {"domain": [72, 616], "nice": false, "zero": false}, "axis": null}, "y": {"datum": 0.072, "scale": {"type": "log", "domain": [0.0047, 870], "nice": false}, "axis": null}}}
],
"resolve": {"scale": {"x": "independent", "y": "independent"}}
},
{
"title": {"text": "B", "dy": 6},
"width": 169, "height": 129,
"layer": [
  {"data": {"name": "B"}, "mark": {"type": "point", "filled": true, "size": 12, "color": "#b01a52", "opacity": 1, "clip": true},
   "encoding": {
    "x": {"field": "T", "type": "quantitative", "scale": {"domain": [75, 633], "nice": false, "zero": false}, "axis": {"title": "Temperature (K)", "values": [100, 200, 300, 400, 500, 600], "labelOverlap": false}},
    "y": {"field": "d", "type": "quantitative", "scale": {"domain": [79.3, 164.4], "nice": false, "zero": false}, "axis": {"title": "Dielectric Constant", "values": [80, 100, 120, 140, 160], "labelOverlap": false}},
    "shape": {"field": "f", "type": "nominal", "scale": {"domain": [1, 2, 3, 4, 5, 6, 7], "range": ["square", "circle", "triangle-up", "triangle-down", "diamond", "circle", "circle"]},
      "legend": {"title": null, "orient": "none", "legendX": 76, "legendY": 53, "labelExpr": "['10 kHz','20 kHz','50 kHz','100 kHz','200 kHz','500 kHz','1 MHz'][datum.value-1]", "labelFontSize": 8, "symbolSize": 10, "rowPadding": -3, "symbolFillColor": "#b01a52", "symbolStrokeColor": "#b01a52", "labelColor": "#b01a52", "labelOffset": 14}}
   }},
  {"data": {"name": "B"}, "mark": {"type": "point", "filled": false, "size": 10, "strokeWidth": 0.6, "color": "#b01a52", "shape": "circle", "clip": true},
   "encoding": {
    "x": {"field": "T", "type": "quantitative", "scale": {"domain": [75, 633], "nice": false, "zero": false}, "axis": null},
    "y": {"field": "l", "type": "quantitative", "scale": {"type": "log", "domain": [0.0047, 870], "nice": false}, "axis": {"orient": "right", "title": "Loss Tangent", "values": [0.01, 0.1, 1, 10, 100], "format": "~g", "labelOverlap": false}}
   }},
  {"data": {"values": [{}]}, "mark": {"type": "text", "text": "x = 0.30", "fontSize": 10, "color": "#b01a52"}, "encoding": {"x": {"datum": 155, "scale": {"domain": [75, 633], "nice": false, "zero": false}, "axis": null}, "y": {"datum": 160, "scale": {"domain": [79.3, 164.4], "nice": false, "zero": false}, "axis": null}}},
  {"data": {"values": [{}]}, "mark": {"type": "text", "text": "⟵", "fontSize": 15, "color": "#b01a52"}, "encoding": {"x": {"datum": 185, "scale": {"domain": [75, 633], "nice": false, "zero": false}, "axis": null}, "y": {"datum": 141.3, "scale": {"domain": [79.3, 164.4], "nice": false, "zero": false}, "axis": null}}},
  {"data": {"values": [{}]}, "mark": {"type": "text", "text": "⟶", "fontSize": 15, "color": "#b01a52"}, "encoding": {"x": {"datum": 185, "scale": {"domain": [75, 633], "nice": false, "zero": false}, "axis": null}, "y": {"datum": 0.026, "scale": {"type": "log", "domain": [0.0047, 870], "nice": false}, "axis": null}}}
],
"resolve": {"scale": {"x": "independent", "y": "independent"}}
},
{
"title": {"text": "C", "dy": 6},
"width": 159, "height": 128,
"view": {"fill": "#f9dc8d", "stroke": "#000"},
"data": {"name": "C"},
"layer": [
 {"mark": {"type": "area", "interpolate": "monotone", "color": "#72c3a2", "opacity": 1},
  "encoding": {
   "x": {"field": "x", "type": "quantitative", "scale": {"domain": [-0.01, 0.462], "nice": false}, "axis": {"title": "Sm Content (x)", "values": [0, 0.1, 0.2, 0.3, 0.4], "format": ".2f", "labelOverlap": false}},
   "y": {"field": "tb", "type": "quantitative", "scale": {"domain": [100, 745], "nice": false, "zero": false}, "axis": {"title": "Temperature (K)", "values": [100, 200, 300, 400, 500, 600, 700], "labelOverlap": false}},
   "y2": {"field": "tm"}}},
 {"mark": {"type": "area", "interpolate": "monotone", "color": "#a8dcec", "opacity": 1},
  "encoding": {"x": {"field": "x", "type": "quantitative", "scale": {"domain": [-0.01, 0.462], "nice": false}, "axis": null}, "y": {"field": "tm", "type": "quantitative", "scale": {"domain": [100, 745], "nice": false, "zero": false}, "axis": null}, "y2": {"datum": 100}}},
 {"mark": {"type": "line", "interpolate": "monotone", "color": "#a5673a", "strokeWidth": 2},
  "encoding": {"x": {"field": "x", "type": "quantitative", "scale": {"domain": [-0.01, 0.462], "nice": false}, "axis": null}, "y": {"field": "tb", "type": "quantitative", "scale": {"domain": [100, 745], "nice": false, "zero": false}, "axis": null}}},
 {"mark": {"type": "line", "interpolate": "monotone", "color": "#3d7a4c", "strokeWidth": 1.5},
  "encoding": {"x": {"field": "x", "type": "quantitative", "scale": {"domain": [-0.01, 0.462], "nice": false}, "axis": null}, "y": {"field": "tm", "type": "quantitative", "scale": {"domain": [100, 745], "nice": false, "zero": false}, "axis": null}}},
 {"data": {"values": [{}]}, "mark": {"type": "rule", "strokeDash": [4, 3], "color": "#333", "strokeWidth": 1}, "encoding": {"y": {"datum": 300, "scale": {"domain": [100, 745], "nice": false, "zero": false}, "axis": null}}},
 {"transform": [{"filter": "datum.mb == 1"}], "mark": {"type": "point", "filled": true, "fill": "white", "stroke": "#8a8a8a", "strokeWidth": 1.3, "size": 30, "opacity": 1},
  "encoding": {"x": {"field": "x", "type": "quantitative", "scale": {"domain": [-0.01, 0.462], "nice": false}, "axis": null}, "y": {"field": "tb", "type": "quantitative", "scale": {"domain": [100, 745], "nice": false, "zero": false}, "axis": null}}},
 {"mark": {"type": "point", "filled": true, "fill": "white", "stroke": "#8a8a8a", "strokeWidth": 1.3, "size": 30, "opacity": 1},
  "encoding": {"x": {"field": "x", "type": "quantitative", "scale": {"domain": [-0.01, 0.462], "nice": false}, "axis": null}, "y": {"field": "tm", "type": "quantitative", "scale": {"domain": [100, 745], "nice": false, "zero": false}, "axis": null}}},
 {"data": {"values": [{}]}, "mark": {"type": "text", "text": "Paraelectric", "fontSize": 10.5, "color": "#333"}, "encoding": {"x": {"datum": 0.209, "scale": {"domain": [-0.01, 0.462], "nice": false}, "axis": null}, "y": {"datum": 705, "scale": {"domain": [100, 745], "nice": false, "zero": false}, "axis": null}}},
 {"data": {"values": [{}]}, "mark": {"type": "text", "text": "Superparaelectric", "fontSize": 10.5, "color": "#333"}, "encoding": {"x": {"datum": 0.248, "scale": {"domain": [-0.01, 0.462], "nice": false}, "axis": null}, "y": {"datum": 441, "scale": {"domain": [100, 745], "nice": false, "zero": false}, "axis": null}}},
 {"data": {"values": [{}]}, "mark": {"type": "text", "text": "Relaxor Ferroelectric", "fontSize": 10.5, "color": "#333"}, "encoding": {"x": {"datum": 0.272, "scale": {"domain": [-0.01, 0.462], "nice": false}, "axis": null}, "y": {"datum": 145, "scale": {"domain": [100, 745], "nice": false, "zero": false}, "axis": null}}},
 {"data": {"values": [{}]}, "mark": {"type": "text", "text": "RT", "fontSize": 10, "fontWeight": "bold", "fontStyle": "italic", "color": "#333"}, "encoding": {"x": {"datum": 0.035, "scale": {"domain": [-0.01, 0.462], "nice": false}, "axis": null}, "y": {"datum": 268, "scale": {"domain": [100, 745], "nice": false, "zero": false}, "axis": null}}},
 {"data": {"values": [{}]}, "mark": {"type": "text", "text": "T", "fontSize": 10, "fontStyle": "italic", "color": "#a5673a"}, "encoding": {"x": {"datum": 0.022, "scale": {"domain": [-0.01, 0.462], "nice": false}, "axis": null}, "y": {"datum": 568, "scale": {"domain": [100, 745], "nice": false, "zero": false}, "axis": null}}},
 {"data": {"values": [{}]}, "mark": {"type": "text", "text": "B", "fontSize": 6.5, "color": "#a5673a", "dx": 5, "dy": 3}, "encoding": {"x": {"datum": 0.022, "scale": {"domain": [-0.01, 0.462], "nice": false}, "axis": null}, "y": {"datum": 568, "scale": {"domain": [100, 745], "nice": false, "zero": false}, "axis": null}}},
 {"data": {"values": [{}]}, "mark": {"type": "text", "text": "T", "fontSize": 10, "fontStyle": "italic", "color": "#3d7a4c"}, "encoding": {"x": {"datum": 0.022, "scale": {"domain": [-0.01, 0.462], "nice": false}, "axis": null}, "y": {"datum": 418, "scale": {"domain": [100, 745], "nice": false, "zero": false}, "axis": null}}},
 {"data": {"values": [{}]}, "mark": {"type": "text", "text": "m", "fontSize": 6.5, "color": "#3d7a4c", "dx": 5.5, "dy": 3}, "encoding": {"x": {"datum": 0.022, "scale": {"domain": [-0.01, 0.462], "nice": false}, "axis": null}, "y": {"datum": 418, "scale": {"domain": [100, 745], "nice": false, "zero": false}, "axis": null}}}
],
"resolve": {"scale": {"x": "independent", "y": "independent"}}
}
],
"spacing": 0,
"resolve": {"scale": {"color": "independent", "shape": "independent"}, "legend": {"color": "independent", "shape": "independent"}}
},
{
"hconcat": [
{
"title": {"text": "D", "dy": 6},
"width": 161, "height": 134,
"layer": [
 {"data": {"values": [{}]}, "mark": {"type": "rule", "color": "#666", "strokeDash": [1.5, 1.5], "strokeWidth": 1}, "encoding": {"x": {"datum": 0, "scale": {"domain": [-3.57, 3.5], "nice": false}, "axis": null}}},
 {"data": {"values": [{}]}, "mark": {"type": "rule", "color": "#666", "strokeDash": [1.5, 1.5], "strokeWidth": 1}, "encoding": {"y": {"datum": 0, "scale": {"domain": [-69, 67], "nice": false}, "axis": null}}},
 {"data": {"name": "D"}, "mark": {"type": "line", "strokeWidth": 2},
  "encoding": {
   "x": {"field": "E", "type": "quantitative", "scale": {"domain": [-3.57, 3.5], "nice": false}, "axis": {"title": "Electric Field (MV cm⁻¹)", "values": [-3, -2, -1, 0, 1, 2, 3], "labelOverlap": false}},
   "y": {"field": "P", "type": "quantitative", "scale": {"domain": [-69, 67], "nice": false}, "axis": {"title": "Polarization (μC cm⁻²)", "values": [-60, -45, -30, -15, 0, 15, 30, 45, 60], "labelOverlap": false}},
   "color": {"field": "c", "type": "nominal", "scale": {"domain": ["0.00", "0.15", "0.30", "0.38", "0.45"], "range": ["#444444", "#a02aa0", "#c0184a", "#d4921a", "#1a8ccc"]},
     "legend": {"title": null, "orient": "bottom-right", "offset": 4, "labelExpr": "'x = ' + datum.label", "symbolType": "stroke", "symbolStrokeWidth": 2.5, "symbolSize": 160, "labelFontSize": 9.5, "rowPadding": -1}},
   "order": {"field": "o", "type": "quantitative"}}}
],
"resolve": {"scale": {"x": "independent", "y": "independent"}}
},
{
"title": {"text": "E", "dy": 6},
"width": 165, "height": 134,
"layer": [
 {"data": {"values": [{}]}, "mark": {"type": "rule", "color": "#666", "strokeDash": [1.5, 1.5], "strokeWidth": 1}, "encoding": {"x": {"datum": 0, "scale": {"domain": [-3.51, 3.52], "nice": false}, "axis": null}}},
 {"data": {"values": [{}]}, "mark": {"type": "rule", "color": "#666", "strokeDash": [1.5, 1.5], "strokeWidth": 1}, "encoding": {"y": {"datum": 0, "scale": {"domain": [-618, 600], "nice": false}, "axis": null}}},
 {"data": {"name": "E"}, "mark": {"type": "line", "strokeWidth": 1.4, "point": {"filled": true, "size": 9}},
  "encoding": {
   "x": {"field": "E", "type": "quantitative", "scale": {"domain": [-3.51, 3.52], "nice": false}, "axis": {"title": "Electric Field (MV cm⁻¹)", "values": [-3, -2, -1, 0, 1, 2, 3], "labelOverlap": false}},
   "y": {"field": "e", "type": "quantitative", "scale": {"domain": [-618, 600], "nice": false}, "axis": {"title": "Effective Permittivity", "values": [-600, -400, -200, 0, 200, 400, 600], "labelOverlap": false}},
   "color": {"field": "c", "type": "nominal", "scale": {"domain": ["0.00", "0.15", "0.30", "0.38", "0.45"], "range": ["#444444", "#a02aa0", "#c0184a", "#d4921a", "#1a8ccc"]},
     "legend": {"title": null, "orient": "bottom-right", "offset": 4, "labelExpr": "'x = ' + datum.label", "symbolType": "stroke", "symbolStrokeWidth": 1.5, "symbolSize": 160, "labelFontSize": 9.5, "rowPadding": -1}},
   "order": {"field": "o", "type": "quantitative"}}}
],
"resolve": {"scale": {"x": "independent", "y": "independent"}}
},
{
"title": {"text": "F", "dy": 6},
"width": 173, "height": 132,
"view": {"stroke": null},
"data": {"name": "F"},
"layer": [
 {"transform": [{"filter": "datum.m == 'Energy Density'"}],
  "mark": {"type": "bar", "stroke": "#444", "strokeWidth": 0.5},
  "encoding": {
   "x": {"field": "x", "type": "nominal", "scale": {"paddingInner": 0.27, "paddingOuter": 0.45}, "axis": {"title": "Sm content (x)", "labelAngle": 0}},
   "xOffset": {"field": "m", "type": "nominal", "scale": {"domain": ["Energy Density", "Efficiency", "UF"], "paddingInner": 0, "paddingOuter": 0}},
   "y": {"field": "v", "type": "quantitative", "scale": {"domain": [0, 90], "nice": false}, "axis": {"title": "Energy Density (J cm⁻³)", "titlePadding": 8, "values": [0, 20, 40, 60, 80], "labelOverlap": false}},
   "color": {"field": "m", "type": "nominal", "scale": {"domain": ["Energy Density", "Efficiency", "UF"], "range": ["#10666e", "#8a72c2", "#f4a7a8"]},
     "legend": {"title": null, "orient": "top-left", "offset": 4, "symbolType": "M-1.6,-0.7H1.6V0.7H-1.6Z", "symbolSize": 100, "labelFontSize": 10, "rowPadding": -2, "symbolStrokeWidth": 0.5}}}},
 {"transform": [{"filter": "datum.m == 'Efficiency'"}],
  "mark": {"type": "bar", "stroke": "#444", "strokeWidth": 0.5, "clip": true},
  "encoding": {
   "x": {"field": "x", "type": "nominal"},
   "xOffset": {"field": "m", "type": "nominal"},
   "y": {"field": "v", "type": "quantitative", "scale": {"domain": [75, 100], "nice": false, "zero": false}, "axis": {"orient": "right", "title": "Efficiency (%)", "titleFontSize": 9.5, "titlePadding": 0, "labelPadding": 1, "values": [75, 80, 85, 90, 95, 100], "labelOverlap": false}},
   "y2": {"datum": 75},
   "color": {"field": "m", "type": "nominal"}}},
 {"transform": [{"filter": "datum.m == 'UF'"}],
  "mark": {"type": "bar", "stroke": "#444", "strokeWidth": 0.5},
  "encoding": {
   "x": {"field": "x", "type": "nominal"},
   "xOffset": {"field": "m", "type": "nominal"},
   "y": {"field": "v", "type": "quantitative", "scale": {"domain": [0, 750], "nice": false}, "axis": {"orient": "right", "offset": 31, "title": "UF", "titleFontStyle": "italic", "titlePadding": 0, "labelPadding": 1, "labelFontSize": 9.5, "values": [0, 150, 300, 450, 600, 750], "labelOverlap": false}},
   "color": {"field": "m", "type": "nominal"}}},
 {"data": {"values": [{}]}, "mark": {"type": "text", "text": "@ 3.0 MV cm⁻¹", "fontSize": 9.5, "color": "#222", "dx": 22},
  "encoding": {"x": {"datum": "0.38"}, "y": {"datum": 84, "scale": {"domain": [0, 90], "nice": false}, "axis": null}}}
],
"resolve": {"scale": {"y": "independent"}}
}
],
"spacing": 8,
"resolve": {"scale": {"color": "independent", "shape": "independent"}, "legend": {"color": "independent", "shape": "independent"}}
}
]
}
